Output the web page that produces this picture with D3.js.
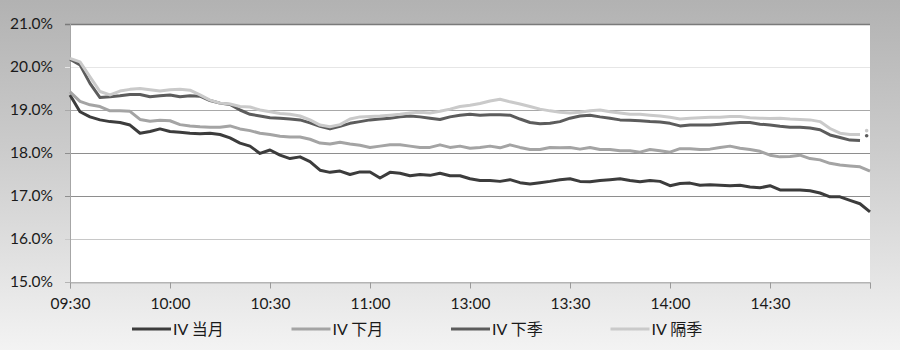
<!DOCTYPE html>
<html>
<head>
<meta charset="utf-8">
<script src="https://cdn.jsdelivr.net/npm/d3@7"></script>
<style>
  body { margin: 0; padding: 0; }
  .chart text { font-family: Lato, 'Noto Sans CJK SC', sans-serif; fill: #1a1a1a; }
</style>
</head>
<body>
<div class="chart"></div>
<script>
// one sample every 3 minutes of trading time (09:30-11:30, 13:00-15:00)
const minutes = d3.range(0, 241, 3);
const timeTicks = [0, 30, 60, 90, 120, 150, 180, 210, 240];
const timeLabels = ['09:30', '10:00', '10:30', '11:00', '13:00', '13:30', '14:00', '14:30', ''];
const yTicks = [15, 16, 17, 18, 19, 20, 21];
const seriesNames = ['IV 当月', 'IV 下月', 'IV 下季', 'IV 隔季'];

const ivDangyue = [19.35, 18.96, 18.84, 18.77, 18.73, 18.71, 18.65, 18.46, 18.50, 18.56,
  18.50, 18.48, 18.46, 18.45, 18.46, 18.43, 18.35, 18.23, 18.16, 17.99,
  18.07, 17.95, 17.87, 17.91, 17.80, 17.60, 17.55, 17.58, 17.50, 17.56,
  17.56, 17.42, 17.55, 17.53, 17.47, 17.50, 17.48, 17.53, 17.47, 17.47,
  17.40, 17.36, 17.36, 17.34, 17.38, 17.31, 17.28, 17.31, 17.34, 17.38,
  17.40, 17.34, 17.33, 17.36, 17.38, 17.40, 17.36, 17.33, 17.36, 17.34,
  17.24, 17.29, 17.30, 17.25, 17.26, 17.25, 17.24, 17.25, 17.21, 17.19,
  17.24, 17.14, 17.14, 17.14, 17.12, 17.07, 16.98, 16.98, 16.90, 16.82, 16.63];

const ivXiayue = [19.42, 19.20, 19.12, 19.08, 18.98, 18.98, 18.97, 18.78, 18.74, 18.76,
  18.75, 18.66, 18.63, 18.61, 18.60, 18.60, 18.63, 18.56, 18.52, 18.46,
  18.43, 18.39, 18.37, 18.37, 18.32, 18.23, 18.21, 18.25, 18.21, 18.18,
  18.13, 18.16, 18.19, 18.19, 18.16, 18.13, 18.13, 18.19, 18.13, 18.16,
  18.11, 18.13, 18.16, 18.12, 18.19, 18.13, 18.08, 18.08, 18.13, 18.12,
  18.13, 18.09, 18.13, 18.08, 18.08, 18.05, 18.05, 18.02, 18.08, 18.05,
  18.02, 18.10, 18.10, 18.08, 18.09, 18.13, 18.16, 18.11, 18.08, 18.04,
  17.95, 17.91, 17.92, 17.95, 17.87, 17.84, 17.76, 17.72, 17.70, 17.68, 17.58];

const ivXiaji = [20.18, 20.05, 19.62, 19.29, 19.31, 19.33, 19.36, 19.36, 19.31, 19.33,
  19.35, 19.31, 19.33, 19.32, 19.22, 19.16, 19.13, 19.00, 18.90, 18.86,
  18.82, 18.81, 18.79, 18.77, 18.70, 18.62, 18.56, 18.62, 18.69, 18.73,
  18.77, 18.79, 18.81, 18.84, 18.86, 18.84, 18.81, 18.78, 18.84, 18.88,
  18.90, 18.88, 18.89, 18.89, 18.88, 18.79, 18.71, 18.68, 18.69, 18.73,
  18.81, 18.86, 18.88, 18.84, 18.81, 18.77, 18.76, 18.75, 18.73, 18.72,
  18.69, 18.63, 18.65, 18.65, 18.65, 18.67, 18.69, 18.71, 18.71, 18.67,
  18.65, 18.62, 18.60, 18.60, 18.58, 18.54, 18.42, 18.36, 18.30, 18.29, null];

const ivGeji = [20.20, 20.12, 19.77, 19.43, 19.35, 19.44, 19.48, 19.50, 19.47, 19.44,
  19.47, 19.48, 19.46, 19.35, 19.23, 19.16, 19.14, 19.08, 19.07, 19.00,
  18.96, 18.92, 18.90, 18.86, 18.77, 18.65, 18.61, 18.66, 18.79, 18.84,
  18.85, 18.86, 18.88, 18.90, 18.93, 18.95, 18.93, 18.97, 19.02, 19.08,
  19.11, 19.15, 19.21, 19.25, 19.19, 19.14, 19.08, 19.02, 18.98, 18.95,
  18.93, 18.95, 18.98, 19.00, 18.96, 18.93, 18.90, 18.90, 18.88, 18.86,
  18.83, 18.79, 18.81, 18.82, 18.83, 18.83, 18.85, 18.85, 18.82, 18.81,
  18.80, 18.81, 18.79, 18.78, 18.77, 18.73, 18.57, 18.46, 18.43, 18.43, null];

// last stray prints of the two far contracts, a little after the lines stop
const tailMinute = 239;
const tailXiaji = 18.40;
const tailGeji = 18.52;

const seriesData = [ivDangyue, ivXiayue, ivXiaji, ivGeji];
const colors = ['#3c3c3c', '#a4a4a4', '#5c5c5c', '#cacaca'];

const W = 900, H = 350;
const margin = {top: 24, right: 30, bottom: 68, left: 70};

const svg = d3.select('.chart')
  .append('svg')
  .attr('width', W)
  .attr('height', H);

const defs = svg.append('defs');
const bg = defs.append('linearGradient')
  .attr('id', 'bg')
  .attr('x1', 0).attr('y1', 0).attr('x2', 0).attr('y2', 1);
bg.append('stop').attr('offset', '0%').attr('stop-color', '#b2b2b2');
bg.append('stop').attr('offset', '45%').attr('stop-color', '#cdcdcd');
bg.append('stop').attr('offset', '100%').attr('stop-color', '#f3f3f3');

svg.append('rect')
  .attr('width', W).attr('height', H)
  .attr('fill', 'url(#bg)');

const x = d3.scaleLinear()
  .domain([0, 240])
  .range([margin.left, W - margin.right]);

const y = d3.scaleLinear()
  .domain([15, 21])
  .range([H - margin.bottom, margin.top]);

// plot area
svg.append('rect')
  .attr('x', x(0)).attr('y', y(21))
  .attr('width', x(240) - x(0))
  .attr('height', y(15) - y(21))
  .attr('fill', '#ffffff');

const gridColor = {15: '#b4b4b4', 16: '#c8c8c8', 17: '#8e8e8e', 18: '#8e8e8e',
                   19: '#a8a8a8', 20: '#e6e6e6', 21: '#7a7a7a'};

svg.append('g')
  .selectAll('line')
  .data(yTicks)
  .enter()
  .append('line')
  .attr('x1', x(0) - 5)
  .attr('x2', x(240))
  .attr('y1', d => Math.round(y(d)) + 0.5)
  .attr('y2', d => Math.round(y(d)) + 0.5)
  .attr('stroke', d => gridColor[d])
  .attr('stroke-width', d => d === 21 ? 1.5 : 1);

const yAxis = d3.axisLeft(y)
  .tickValues(yTicks)
  .tickSize(0)
  .tickPadding(17)
  .tickFormat(d => d.toFixed(1) + '%');

svg.append('g')
  .attr('class', 'axis y-axis')
  .attr('transform', 'translate(' + x(0) + ',0)')
  .call(yAxis)
  .call(g => g.select('.domain').remove())
  .call(g => g.selectAll('text').style('font-size', '15.5px'));

svg.append('line')
  .attr('x1', x(0) + 0.5).attr('x2', x(0) + 0.5)
  .attr('y1', y(21)).attr('y2', y(15))
  .attr('stroke', '#a6a6a6');

const xAxis = d3.axisBottom(x)
  .tickValues(timeTicks)
  .tickSize(6)
  .tickPadding(9)
  .tickFormat((d, i) => timeLabels[i]);

svg.append('g')
  .attr('class', 'axis x-axis')
  .attr('transform', 'translate(0,' + (Math.round(y(15)) + 0.5) + ')')
  .call(xAxis)
  .call(g => g.select('.domain').attr('stroke', '#b4b4b4'))
  .call(g => g.selectAll('.tick line').attr('stroke', '#9a9a9a'))
  .call(g => g.selectAll('text').style('font-size', '15.5px'));

const line = d3.line()
  .defined(d => d != null)
  .x((d, i) => x(minutes[i]))
  .y(d => y(d));

svg.append('g')
  .selectAll('path')
  .data(seriesData)
  .enter()
  .append('path')
  .attr('d', d => line(d))
  .attr('fill', 'none')
  .attr('stroke', (d, i) => colors[i])
  .attr('stroke-width', 3)
  .attr('stroke-linejoin', 'round');

svg.append('g')
  .selectAll('circle')
  .data([[tailXiaji, 2], [tailGeji, 3]])
  .enter()
  .append('circle')
  .attr('cx', x(tailMinute))
  .attr('cy', d => y(d[0]))
  .attr('r', 1.8)
  .attr('fill', d => colors[d[1]]);

// legend
const legendY = 329;
const legend = svg.append('g').attr('class', 'legend');

legend.selectAll('line')
  .data(seriesNames)
  .enter()
  .append('line')
  .attr('x1', (d, i) => 132 + i * 159.5)
  .attr('x2', (d, i) => 171 + i * 159.5)
  .attr('y1', legendY)
  .attr('y2', legendY)
  .attr('stroke', (d, i) => colors[i])
  .attr('stroke-width', 3);

legend.selectAll('text')
  .data(seriesNames)
  .enter()
  .append('text')
  .attr('x', (d, i) => 173 + i * 159.5)
  .attr('y', legendY + 6)
  .style('font-size', '16px')
  .text(d => d);
</script>
</body>
</html>
